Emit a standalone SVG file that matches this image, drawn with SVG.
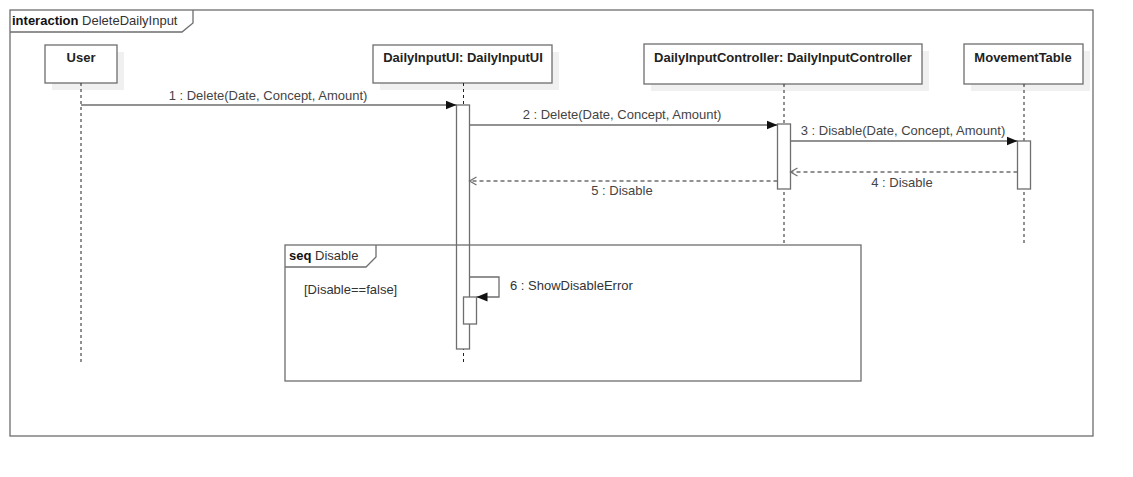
<svg xmlns="http://www.w3.org/2000/svg" width="1133" height="477" viewBox="0 0 1133 477">
<style>
  text { font-family: "Liberation Sans", Arial, sans-serif; font-size: 13px; fill: #333; }
  .head { font-weight: bold; fill: #222; text-anchor: middle; }
  .b { font-weight: bold; }
  .frame { fill: none; stroke: #6e6e6e; stroke-width: 1.3; }
  .box { fill: #fff; stroke: #6e6e6e; stroke-width: 1.3; }
  .shadow { fill: #f0f0f0; stroke: none; }
  .life { stroke: #222; stroke-width: 1; stroke-dasharray: 3,3; fill: none; }
  .act { fill: #fff; stroke: #6e6e6e; stroke-width: 1.3; }
  .msg { stroke: #6e6e6e; stroke-width: 1.3; fill: none; }
  .ret { stroke: #6e6e6e; stroke-width: 1.3; fill: none; stroke-dasharray: 4,3; }
  .lbl { fill: #444; text-anchor: middle; }
</style>
<defs>
  <marker id="filled" markerWidth="12" markerHeight="10" refX="11" refY="5" orient="auto" markerUnits="userSpaceOnUse">
    <path d="M0,0.5 L11,5 L0,9.5 Z" fill="#111"/>
  </marker>
  <marker id="open" markerWidth="10" markerHeight="10" refX="8" refY="5" orient="auto" markerUnits="userSpaceOnUse">
    <path d="M1,1 L8,5 L1,9" fill="none" stroke="#6e6e6e" stroke-width="1.2"/>
  </marker>
</defs>
<rect width="1133" height="477" fill="#fff"/>

<g id="frame-interaction">
  <rect class="frame" x="10" y="10" width="1083" height="426"/>
  <path class="frame" d="M10,32 H182 L193,23 V10"/>
  <text x="12" y="25"><tspan class="b" fill="#111">interaction</tspan> DeleteDailyInput</text>
</g>

<g id="lifeline-user">
  <rect class="shadow" x="52" y="52" width="72" height="38"/>
  <rect class="box" x="45" y="45" width="72" height="38"/>
  <text class="head" x="81" y="62">User</text>
  <line class="life" x1="81" y1="83" x2="81" y2="362"/>
</g>

<g id="lifeline-ui">
  <rect class="shadow" x="380" y="52" width="179" height="38"/>
  <rect class="box" x="373" y="45" width="179" height="38"/>
  <text class="head" x="463" y="62">DailyInputUI: DailyInputUI</text>
  <line class="life" x1="463.5" y1="83" x2="463.5" y2="362"/>
  <rect class="act" x="456.5" y="105" width="13" height="244"/>
</g>

<g id="lifeline-controller">
  <rect class="shadow" x="651" y="51" width="278" height="40"/>
  <rect class="box" x="644" y="44" width="278" height="40"/>
  <text class="head" x="783" y="62">DailyInputController: DailyInputController</text>
  <line class="life" x1="784" y1="84" x2="784" y2="243"/>
  <rect class="act" x="777.5" y="124" width="13" height="65"/>
</g>

<g id="lifeline-movement">
  <rect class="shadow" x="971" y="51" width="119" height="40"/>
  <rect class="box" x="964" y="44" width="119" height="40"/>
  <text class="head" x="1023" y="62">MovementTable</text>
  <line class="life" x1="1024" y1="84" x2="1024" y2="243"/>
  <rect class="act" x="1017.5" y="141" width="13" height="48"/>
</g>

<g id="fragment-seq">
  <rect class="frame" x="285" y="245" width="576" height="136"/>
  <path class="frame" d="M285,267 H366 L376,257 V245"/>
  <text x="289" y="260"><tspan class="b" fill="#111">seq</tspan> Disable</text>
  <text x="304" y="294">[Disable==false]</text>
</g>

<g id="connectors">
  <line class="msg" x1="81" y1="105" x2="456.5" y2="105" marker-end="url(#filled)"/>
  <text class="lbl" x="268" y="100">1 : Delete(Date, Concept, Amount)</text>

  <line class="msg" x1="469.5" y1="125" x2="777.5" y2="125" marker-end="url(#filled)"/>
  <text class="lbl" x="622" y="119">2 : Delete(Date, Concept, Amount)</text>

  <line class="msg" x1="790.5" y1="141" x2="1017.5" y2="141" marker-end="url(#filled)"/>
  <text class="lbl" x="903" y="135">3 : Disable(Date, Concept, Amount)</text>

  <line class="ret" x1="1017.5" y1="172" x2="790.5" y2="172" marker-end="url(#open)"/>
  <text class="lbl" x="902" y="187">4 : Disable</text>

  <line class="ret" x1="777.5" y1="181" x2="469.5" y2="181" marker-end="url(#open)"/>
  <text class="lbl" x="622" y="195">5 : Disable</text>

  <path class="msg" d="M469.5,277 H499 V297 H476.5" marker-end="url(#filled)"/>
  <text x="510" y="290" fill="#444">6 : ShowDisableError</text>
</g>

<g id="activation-nested">
  <rect class="act" x="463.5" y="297" width="13" height="27"/>
</g>
</svg>
